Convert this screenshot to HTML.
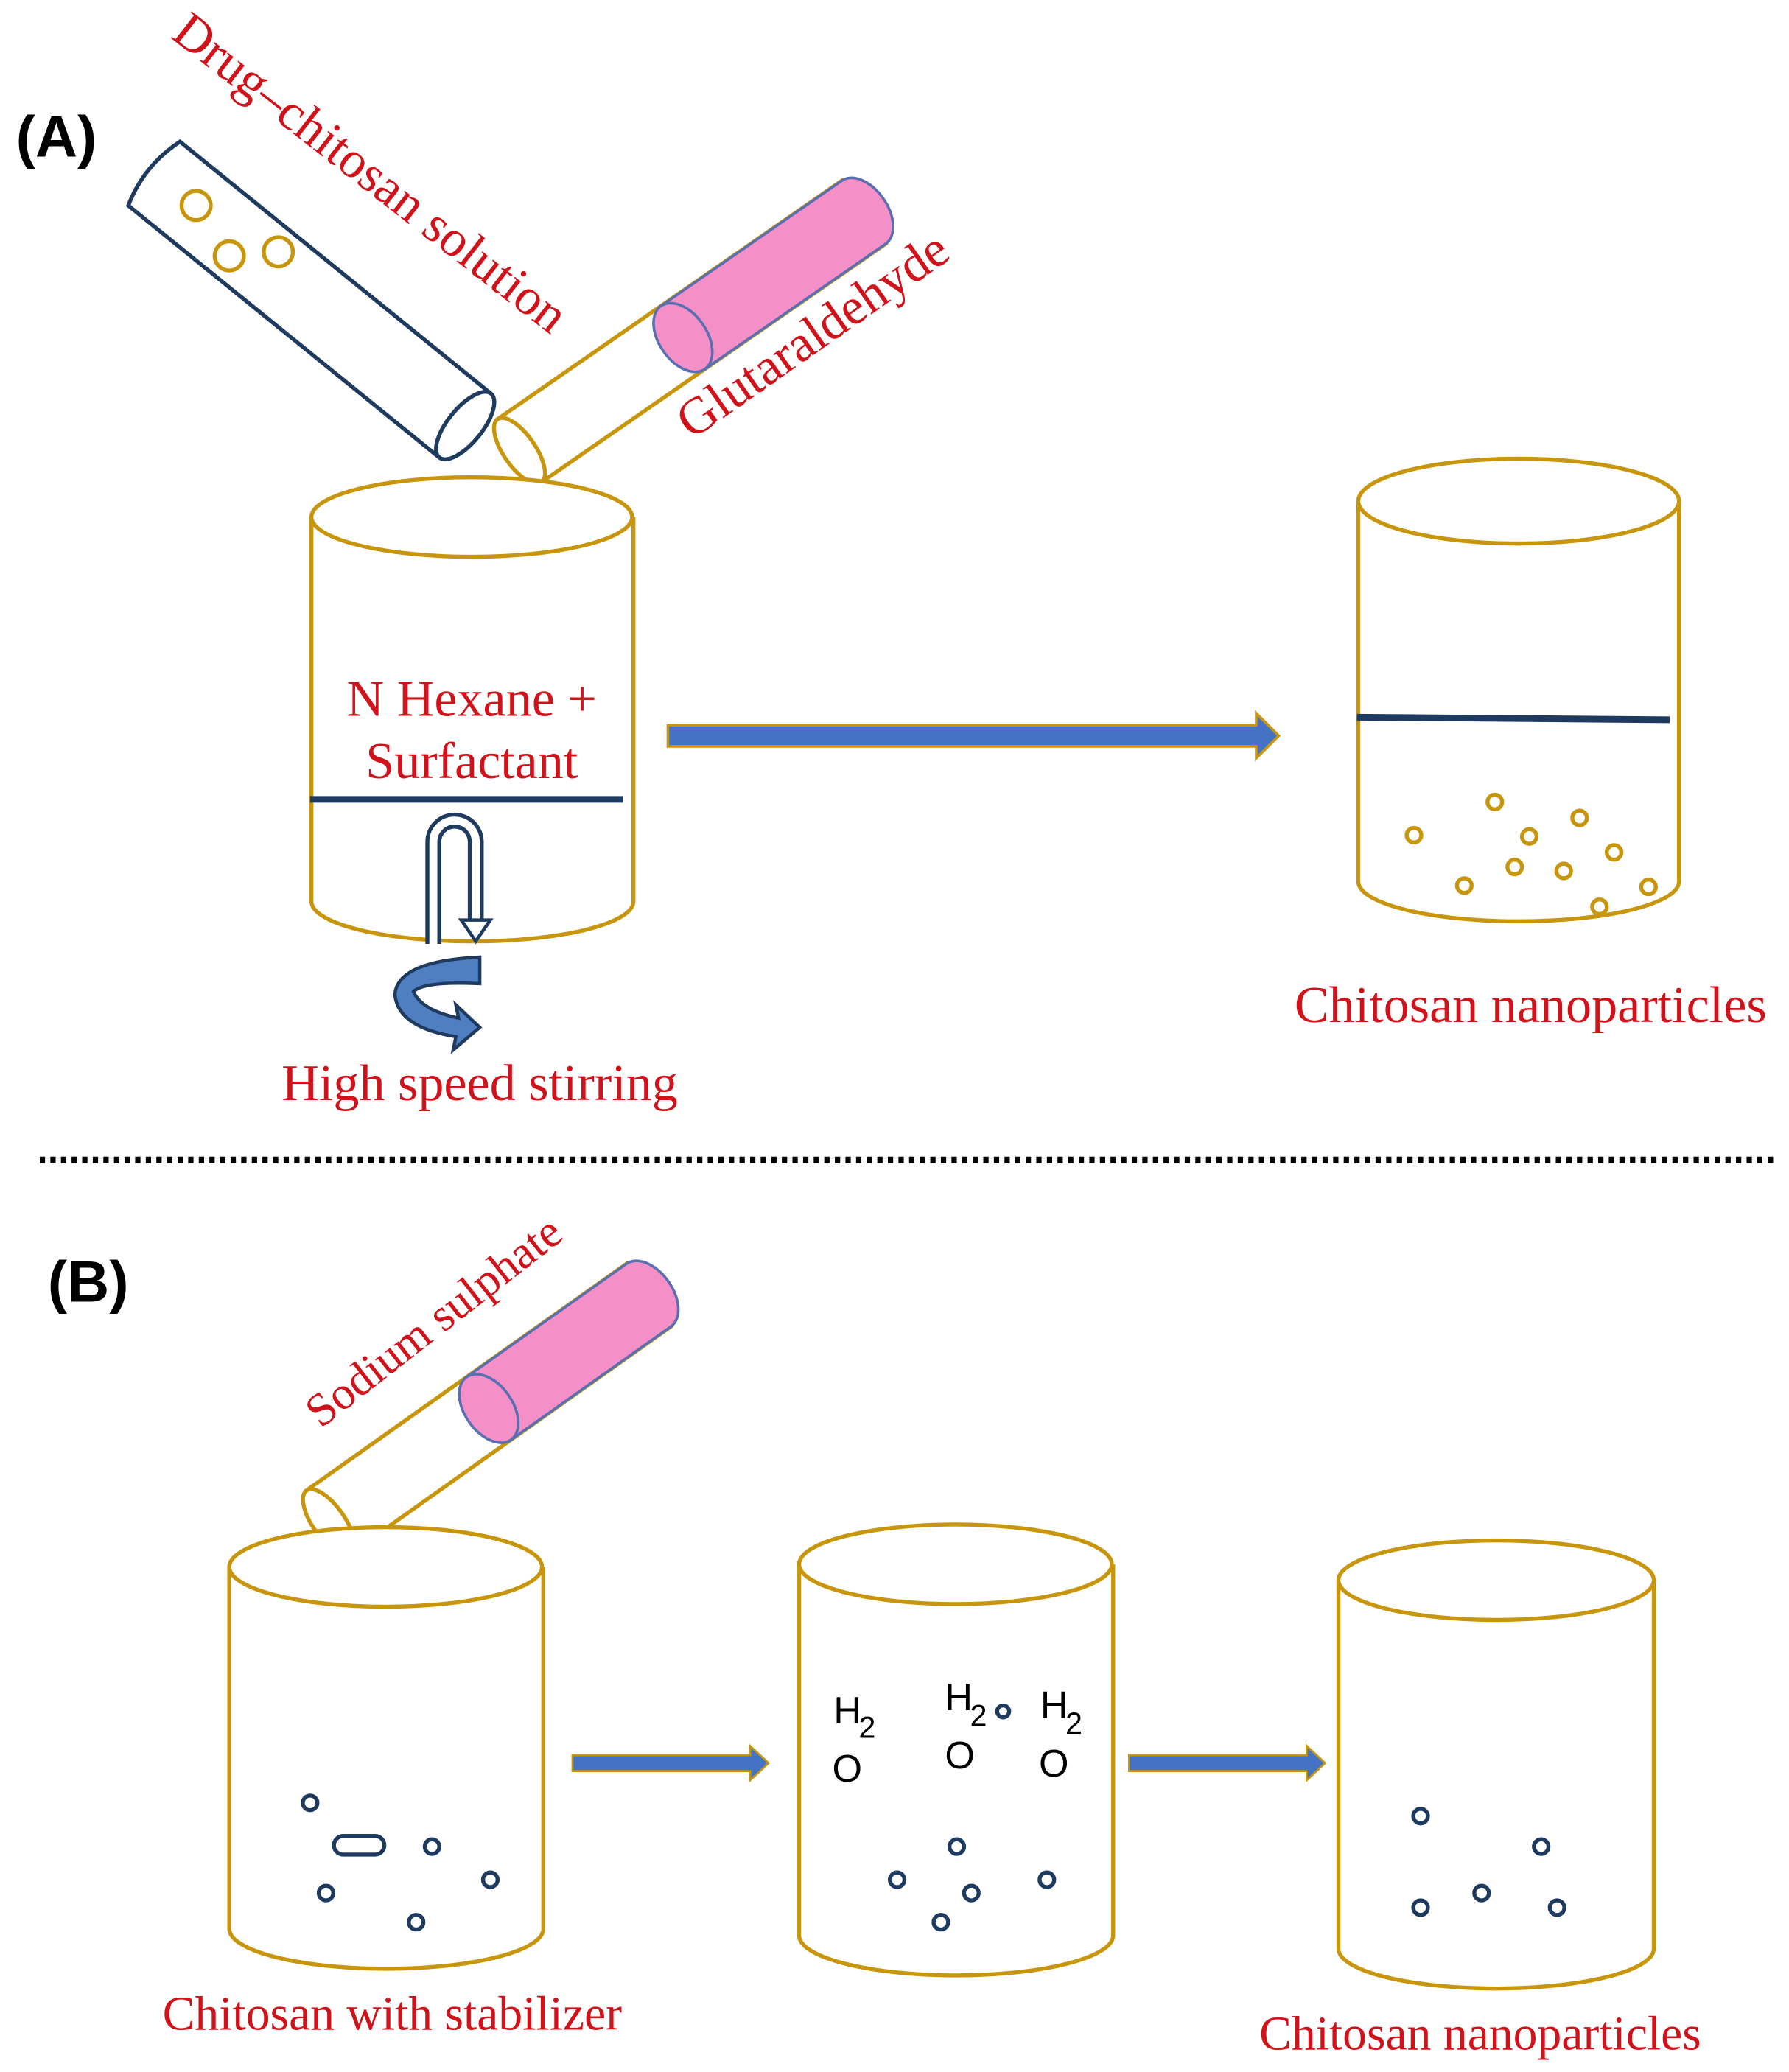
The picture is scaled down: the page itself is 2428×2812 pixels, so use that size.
<!DOCTYPE html>
<html><head><meta charset="utf-8"><style>html,body{margin:0;padding:0;background:#fff}svg{display:block}</style></head>
<body>
<svg width="2428" height="2812" viewBox="0 0 1350 1563" preserveAspectRatio="none" xmlns="http://www.w3.org/2000/svg">
<defs>
<style>
.red{fill:#d0121b;font-family:"Liberation Serif",serif;font-size:39px}
.redb{fill:#d0121b;font-family:"Liberation Serif",serif;font-size:36.5px}
.gold{fill:#fff;stroke:#c8960c;stroke-width:3}
.navy{fill:none;stroke:#1f3a5f;stroke-width:3}
.lab{font-family:"Liberation Sans",sans-serif;font-weight:bold;font-size:44px;fill:#000}
.h2o{font-family:"Liberation Sans",sans-serif;font-size:29px;fill:#000}
</style>
</defs>
<text x="12" y="118" class="lab">(A)</text>
<text x="36" y="982" class="lab">(B)</text>

<!-- Tube 1 -->
<g transform="translate(351,321) rotate(219)">
<path d="M0,-31 L302,-31 Q312,0 302,31 L0,31" class="navy" fill="#fff"/>
<ellipse cx="0" cy="0" rx="13" ry="31" class="navy"/>
</g>
<circle cx="148" cy="155" r="11" fill="none" stroke="#c8960c" stroke-width="3"/>
<circle cx="173" cy="193" r="11" fill="none" stroke="#c8960c" stroke-width="3"/>
<circle cx="210" cy="190" r="11" fill="none" stroke="#c8960c" stroke-width="3"/>
<text class="red" transform="translate(128,28) rotate(38)">Drug–chitosan solution</text>

<!-- Tube 2 -->
<g transform="translate(392,340) rotate(-34.7)">
<path d="M0,-29 L316,-29 L316,29 L0,29 Z" class="gold"/>
<path d="M150,-29 L316,-29 A18,29 0 0 1 316,29 L150,29 Z" fill="#f48fc8" stroke="#5a6fb0" stroke-width="2"/>
<ellipse cx="150" cy="0" rx="18" ry="29" fill="#f48fc8" stroke="#5a6fb0" stroke-width="2"/>
<ellipse cx="0" cy="0" rx="12" ry="29" class="gold"/>
</g>
<text class="red" transform="translate(522,332) rotate(-35)">Glutaraldehyde</text>

<!-- Beaker A1 -->
<path d="M235,390 L235,680 A121,30 0 0 0 478,680 L478,390" class="gold"/>
<ellipse cx="356" cy="390" rx="121" ry="30" class="gold"/>
<line x1="234" y1="603" x2="470" y2="603" stroke="#1f3a5f" stroke-width="5"/>
<text x="356" y="540" class="red" text-anchor="middle">N Hexane +</text>
<text x="356" y="587" class="red" text-anchor="middle">Surfactant</text>
<!-- stirrer -->
<path d="M327,712 L327,635 A16,16 0 0 1 359,635 L359,695" fill="none" stroke="#1f3a5f" stroke-width="12"/>
<path d="M327,712 L327,635 A16,16 0 0 1 359,635 L359,697" fill="none" stroke="#fff" stroke-width="6"/>
<path d="M348,694 L370,694 L359,710 Z" fill="#fff" stroke="#1f3a5f" stroke-width="2.5"/>
<path d="M362,722 L362,742 Q320,740 312,748 Q318,762 346,768 L344,758 L362,775 L342,792 L344,782 Q300,775 298,750 Q300,725 362,722 Z" fill="#4f7fc0" stroke="#1f3a5f" stroke-width="2.5"/>
<text x="362" y="830" class="red" text-anchor="middle">High speed stirring</text>

<!-- big arrow A -->
<path d="M504,547 L948,547 L948,538 L965,555 L948,572 L948,563 L504,563 Z" fill="#4472c4" stroke="#c8960c" stroke-width="2"/>

<!-- Beaker A2 -->
<path d="M1025,378 L1025,665 A121,30 0 0 0 1267,665 L1267,378" class="gold"/>
<ellipse cx="1146" cy="378" rx="121" ry="32" class="gold"/>
<line x1="1024" y1="541" x2="1260" y2="543" stroke="#1f3a5f" stroke-width="5"/>
<g fill="none" stroke="#c8960c" stroke-width="3">
<circle cx="1128" cy="605" r="5.5"/><circle cx="1192" cy="617" r="5.5"/><circle cx="1067" cy="630" r="5.5"/>
<circle cx="1154" cy="631" r="5.5"/><circle cx="1218" cy="643" r="5.5"/><circle cx="1143" cy="654" r="5.5"/>
<circle cx="1180" cy="657" r="5.5"/><circle cx="1105" cy="668" r="5.5"/><circle cx="1244" cy="669" r="5.5"/>
<circle cx="1207" cy="684" r="5.5"/>
</g>
<text x="1155" y="771" class="red" text-anchor="middle">Chitosan nanoparticles</text>

<line x1="30" y1="875" x2="1340" y2="875" stroke="#000" stroke-width="5" stroke-dasharray="4,4"/>

<!-- Tube B -->
<g transform="translate(248,1148) rotate(-35.3)">
<path d="M0,-29 L296,-29 L296,29 L0,29 Z" class="gold"/>
<path d="M148,-29 L296,-29 A18,29 0 0 1 296,29 L148,29 Z" fill="#f48fc8" stroke="#5a6fb0" stroke-width="2"/>
<ellipse cx="148" cy="0" rx="18" ry="29" fill="#f48fc8" stroke="#5a6fb0" stroke-width="2"/>
<ellipse cx="0" cy="0" rx="12" ry="29" class="gold"/>
</g>
<text class="redb" transform="translate(242,1078) rotate(-38)" style="font-size:35px">Sodium sulphate</text>

<!-- Beaker B1 -->
<path d="M173,1182 L173,1455 A118,30 0 0 0 410,1455 L410,1182" class="gold"/>
<ellipse cx="291" cy="1182" rx="118" ry="30" class="gold"/>
<g fill="none" stroke="#1f3a5f" stroke-width="3">
<circle cx="234" cy="1360" r="5.5"/><circle cx="326" cy="1393" r="5.5"/><circle cx="370" cy="1418" r="5.5"/>
<circle cx="246" cy="1428" r="5.5"/><circle cx="314" cy="1450" r="5.5"/>
<rect x="252" y="1385" width="38" height="14" rx="7"/>
</g>
<text x="296" y="1531" class="redb" text-anchor="middle">Chitosan with stabilizer</text>

<path d="M432,1324 L566,1324 L566,1317 L580,1330 L566,1343 L566,1336 L432,1336 Z" fill="#4472c4" stroke="#c8960c" stroke-width="1.5"/>

<!-- Beaker B2 -->
<path d="M603,1180 L603,1460 A118,30 0 0 0 840,1460 L840,1180" class="gold"/>
<ellipse cx="721" cy="1180" rx="118" ry="30" class="gold"/>
<text x="629" y="1300" class="h2o">H</text><text x="648" y="1311" class="h2o" style="font-size:23px">2</text>
<text x="628" y="1344" class="h2o">O</text>
<text x="713" y="1290" class="h2o">H</text><text x="732" y="1302" class="h2o" style="font-size:23px">2</text>
<text x="713" y="1334" class="h2o">O</text>
<text x="785" y="1296" class="h2o">H</text><text x="804" y="1308" class="h2o" style="font-size:23px">2</text>
<text x="784" y="1340" class="h2o">O</text>
<g fill="none" stroke="#1f3a5f" stroke-width="3">
<circle cx="757" cy="1291" r="4.5"/>
<circle cx="722" cy="1393" r="5.5"/><circle cx="677" cy="1418" r="5.5"/><circle cx="790" cy="1418" r="5.5"/>
<circle cx="733" cy="1428" r="5.5"/><circle cx="710" cy="1450" r="5.5"/>
</g>

<path d="M852,1324 L986,1324 L986,1317 L1000,1330 L986,1343 L986,1336 L852,1336 Z" fill="#4472c4" stroke="#c8960c" stroke-width="1.5"/>

<!-- Beaker B3 -->
<path d="M1010,1192 L1010,1470 A119,30 0 0 0 1248,1470 L1248,1192" class="gold"/>
<ellipse cx="1129" cy="1192" rx="119" ry="30" class="gold"/>
<g fill="none" stroke="#1f3a5f" stroke-width="3">
<circle cx="1072" cy="1370" r="5.5"/><circle cx="1163" cy="1393" r="5.5"/><circle cx="1118" cy="1428" r="5.5"/>
<circle cx="1072" cy="1439" r="5.5"/><circle cx="1175" cy="1439" r="5.5"/>
</g>
<text x="1117" y="1546" class="redb" text-anchor="middle">Chitosan nanoparticles</text>
</svg>
</body></html>
